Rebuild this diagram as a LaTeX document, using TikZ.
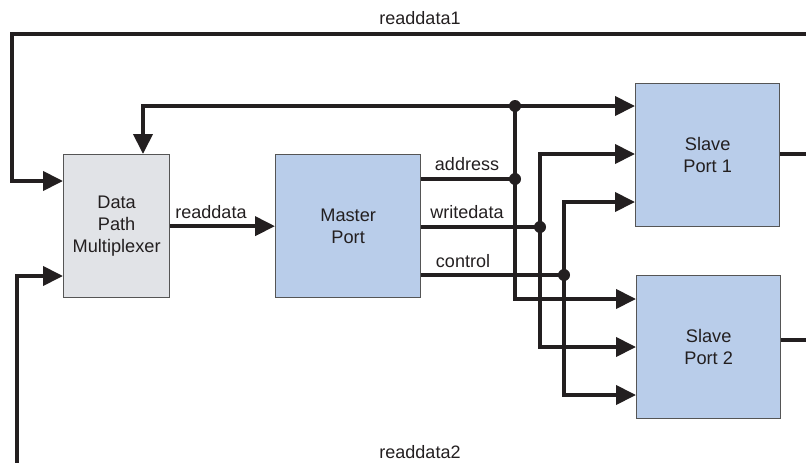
\documentclass[tikz,border=0pt]{standalone}
\usepackage{fontspec}
\setmainfont{Liberation Sans}
\usetikzlibrary{arrows.meta,calc}
\definecolor{blockblue}{HTML}{B9CDEA}
\definecolor{muxgray}{HTML}{E1E3E7}
\definecolor{wirecol}{HTML}{231F20}
\definecolor{edgecol}{HTML}{555555}
\definecolor{textcol}{HTML}{231F20}
\begin{document}
\begin{tikzpicture}[x=1pt,y=-1pt,
  block/.style={draw=edgecol, line width=1.3pt, minimum width=#1, minimum height=143pt,
    inner sep=0pt, anchor=north west, align=center, text=textcol,
    font=\fontsize{18.2}{22}\selectfont},
  wire/.style={line width=4pt, draw=wirecol, line join=miter},
  arr/.style={wire, -{Triangle[length=20pt,width=19pt]}},
  jdot/.style={circle, fill=wirecol, inner sep=0pt, minimum size=12pt},
  lbl/.style={text=textcol, inner sep=0pt, font=\fontsize{18}{21}\selectfont}]
\useasboundingbox (0,0) rectangle (806,463);

% blocks
\node[block=106pt, fill=muxgray] (mux) at (63,154) {Data\\Path\\Multiplexer};
\node[block=145pt, fill=blockblue] (master) at (275,154) {Master\\Port};
\node[block=144pt, fill=blockblue] (s1) at (635,83) {Slave\\Port 1};
\node[block=144pt, fill=blockblue] (s2) at (636,275) {Slave\\Port 2};

% free ends at the picture edges
\coordinate (r1end) at (812,34);
\coordinate (s1out) at (812,154);
\coordinate (s2out) at (812,340);
\coordinate (r2end) at (17,470);

% junctions
\coordinate (ja) at (515,106);
\coordinate (jb) at (515,179);
\coordinate (jc) at (540,227);
\coordinate (jd) at (564,275);

% readdata1 loop
\draw[arr] (r1end) -- (12,34) |- ([yshift=-27pt]mux.north west);
% readdata2 loop
\draw[arr] (r2end) |- ([yshift=-122pt]mux.north west);
% outputs of slaves
\draw[wire] (s1.east |- s1out) -- (s1out);
\draw[wire] (s2.east |- s2out) -- (s2out);

% readdata
\draw[arr] (mux.east) -- (master.west);

% address bus
\draw[arr] (ja) -| ([xshift=80pt]mux.north west);
\draw[arr] (ja) -- (s1.north west |- ja);
\draw[wire] (master.north east |- jb) -- (jb);
\draw[arr] (ja) |- ([yshift=-24pt]s2.north west);

% writedata bus
\draw[wire] (master.north east |- jc) -- (jc);
\draw[arr] (jc) |- ([yshift=-71pt]s1.north west);
\draw[arr] (jc) |- ([yshift=-72pt]s2.north west);

% control bus
\draw[arr] (jd) |- ([yshift=-119pt]s1.north west);
\draw[wire] (master.north east |- jd) -- (jd);
\draw[arr] (jd) |- ([yshift=-120pt]s2.north west);

% junction dots
\node[jdot] (dja) at (ja) {};
\node[jdot] (djb) at (jb) {};
\node[jdot] (djc) at (jc) {};
\node[jdot] (djd) at (jd) {};

% labels
\node[lbl] (lr1) at (420,18) {readdata1};
\node[lbl] (lr2) at (420,452) {readdata2};
\node[lbl] (lrd) at (211,212) {readdata};
\node[lbl] (lad) at (467,164) {address};
\node[lbl] (lwd) at (467,212) {writedata};
\node[lbl] (lct) at (463,261) {control};
\end{tikzpicture}
\end{document}
